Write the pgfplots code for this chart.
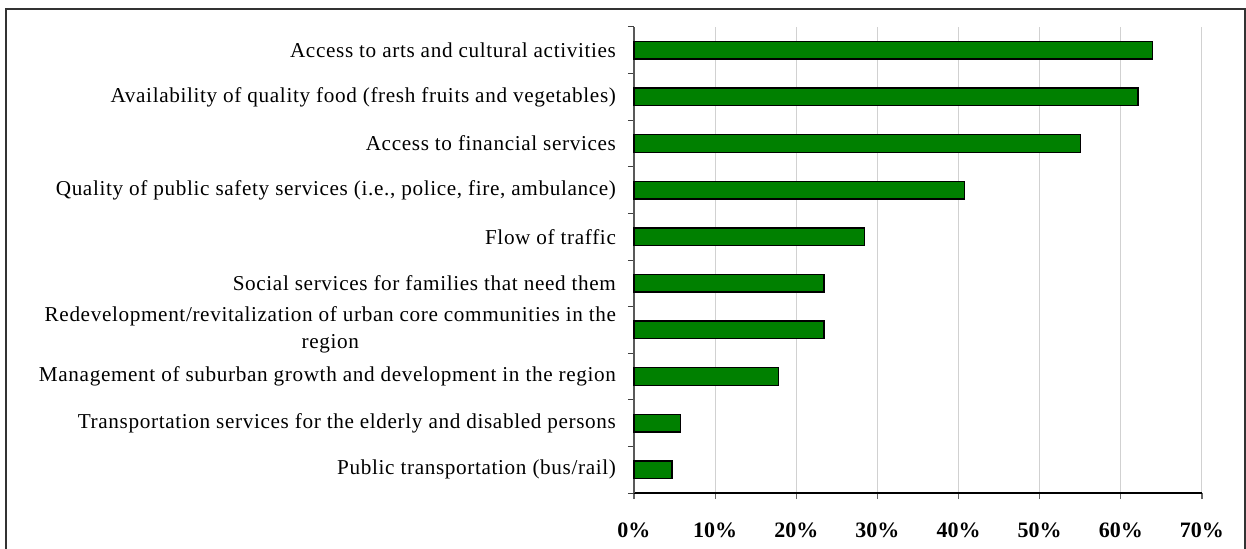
\documentclass[border=0pt]{standalone}
\usepackage{fontspec}
\setmainfont{Liberation Serif}
\newfontfamily\labfont[LetterSpace=3]{Liberation Serif}
\usepackage{pgfplots}
\pgfplotsset{compat=1.18}
\definecolor{bargreen}{HTML}{008000}
\begin{document}
\begin{tikzpicture}
\useasboundingbox (-317pt,-27.5pt) rectangle (306pt,246.5pt);
\draw[line width=0.8pt, black!80] (-314pt,-40pt) -- (-314pt,242pt) -- (305.5pt,242pt) -- (305.5pt,-40pt);
\begin{axis}[
  at={(0,0)}, anchor=south west,
  scale only axis,
  width=284pt, height=233pt,
  xbar, bar width=8.8pt,
  xmin=0, xmax=70,
  ymin=-0.5, ymax=9.5,
  xtick={0,10,...,70},
  xticklabel={\textbf{\pgfmathprintnumber{\tick}\%}},
  /pgf/number format/assume math mode=true,
  xticklabel style={font=\fontsize{11}{12}\selectfont, yshift=-8.5pt},
  xmajorgrids, major grid style={draw=black!18, line width=0.5pt},
  ytick={0,...,9},
  yticklabels={
    {Public transportation (bus/rail)},
    {Transportation services for the elderly and disabled persons},
    {Management of suburban growth and development in the region},
    {Redevelopment/revitalization of urban core communities in the\\region},
    {Social services for families that need them},
    {Flow of traffic},
    {Quality of public safety services (i.e., police, fire, ambulance)},
    {Access to financial services},
    {Availability of quality food (fresh fruits and vegetables)},
    {Access to arts and cultural activities}},
  yticklabel style={font=\labfont\fontsize{10.6}{13.5}\selectfont, align=center, xshift=-2.5pt},
  minor ytick={-0.5,0.5,...,9.5},
  y tick style={draw=none},
  minor y tick style={draw=black!75, line width=0.5pt},
  minor tick length=3pt,
  x tick style={draw=black!60, line width=0.6pt},
  major tick length=3pt,
  tick align=outside,
  axis x line*=bottom, axis y line*=left,
  x axis line style={draw=black, line width=0.6pt, -},
  y axis line style={draw=black!65, line width=0.8pt, -},
  clip=false,
]
\addplot[fill=bargreen, draw=black, line width=0.7pt] coordinates {
  (4.7,0) (5.7,1) (17.8,2) (23.4,3) (23.4,4) (28.4,5) (40.7,6) (55.0,7) (62.1,8) (63.9,9)
};
\end{axis}
\end{tikzpicture}
\end{document}
